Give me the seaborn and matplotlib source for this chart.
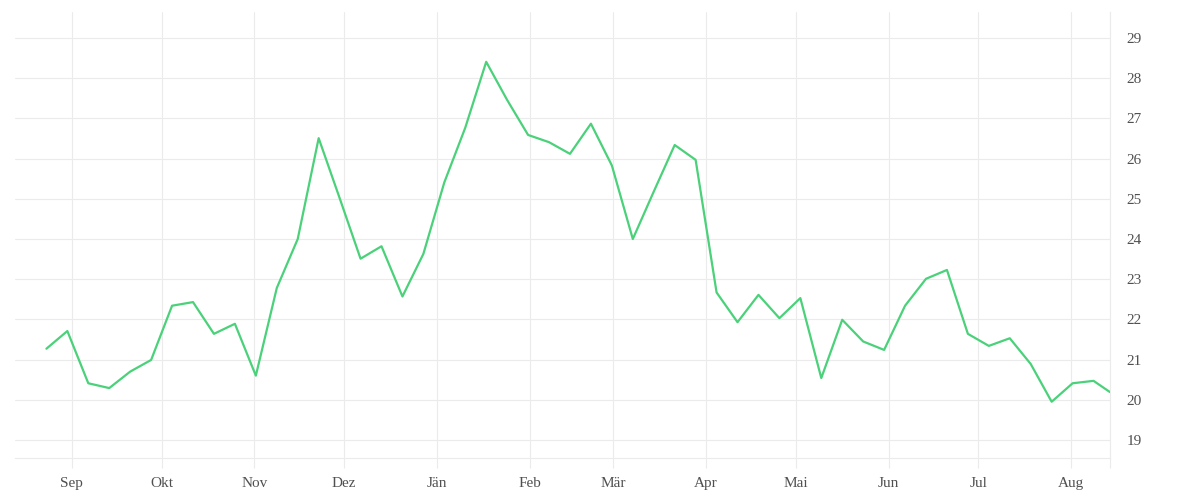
import pandas as pd
import matplotlib
matplotlib.use("Agg")
import matplotlib.pyplot as plt
import matplotlib.dates as mdates
import seaborn as sns

# weekly values, late Aug 2022 to mid Aug 2023 (last point is a partial week)
values = [21.27, 21.71, 20.41, 20.29, 20.70, 20.99, 22.34, 22.43, 21.64, 21.89,
          20.60, 22.78, 24.00, 26.51, 25.02, 23.51, 23.82, 22.57, 23.63, 25.41,
          26.77, 28.41, 27.46, 26.59, 26.41, 26.12, 26.87, 25.83, 24.00, 25.18,
          26.34, 25.97, 22.67, 21.93, 22.61, 22.03, 22.53, 20.54, 21.99, 21.45,
          21.24, 22.34, 23.01, 23.23, 21.64, 21.34, 21.53, 20.89, 19.95, 20.41,
          20.47, 20.19]
first_week = "2022-08-23 12:00"
last_date = "2023-08-14"
month_starts = ["2022-09-01", "2022-10-01", "2022-11-01", "2022-12-01",
                "2023-01-01", "2023-02-01", "2023-03-01", "2023-04-01",
                "2023-05-01", "2023-06-01", "2023-07-01", "2023-08-01"]
month_labels = ["Sep", "Okt", "Nov", "Dez", "Jän", "Feb", "Mär", "Apr",
                "Mai", "Jun", "Jul", "Aug"]
y_ticks = [19, 20, 21, 22, 23, 24, 25, 26, 27, 28, 29]

weeks = pd.date_range(first_week, periods=len(values) - 1, freq="7D")
dates = list(weeks) + [pd.Timestamp(last_date)]
df = pd.DataFrame({"date": dates, "value": values})

sns.set_theme(style="white")
plt.rcParams["font.family"] = ["Liberation Serif", "DejaVu Serif"]

grid_col = "#ebebeb"
text_col = "#505050"

fig = plt.figure(figsize=(12, 5), dpi=100)
ax = fig.add_axes([0.0125, 0.084, 0.9125, 0.892])

sns.lineplot(data=df, x="date", y="value", ax=ax, color="#4ad17a",
             linewidth=1.6, zorder=3)

tick_dates = [pd.Timestamp(d) for d in month_starts] + [pd.Timestamp(last_date)]
ax.set_xticks(mdates.date2num(tick_dates))
ax.set_xticklabels(month_labels + [""])
ax.set_xlim(mdates.date2num(pd.Timestamp("2022-08-13")),
            mdates.date2num(pd.Timestamp(last_date)))

ax.set_ylim(18.55, 29.65)
ax.set_yticks(y_ticks)
ax.set_yticklabels([str(v) for v in y_ticks])
ax.yaxis.tick_right()

ax.set_xlabel("")
ax.set_ylabel("")

ax.grid(True, color=grid_col, linewidth=0.8)
ax.set_axisbelow(True)

for side in ["top", "left"]:
    ax.spines[side].set_visible(False)
for side in ["bottom", "right"]:
    ax.spines[side].set_visible(True)
    ax.spines[side].set_color(grid_col)
    ax.spines[side].set_linewidth(0.8)

ax.tick_params(axis="x", direction="out", length=7.2, width=0.8, color=grid_col,
               pad=6.5, labelsize=11, labelcolor=text_col, bottom=True)
ax.tick_params(axis="y", length=0, pad=12, labelsize=11, labelcolor=text_col,
               right=True, left=False, labelright=True, labelleft=False)

fig.savefig("out.png", dpi=100)
